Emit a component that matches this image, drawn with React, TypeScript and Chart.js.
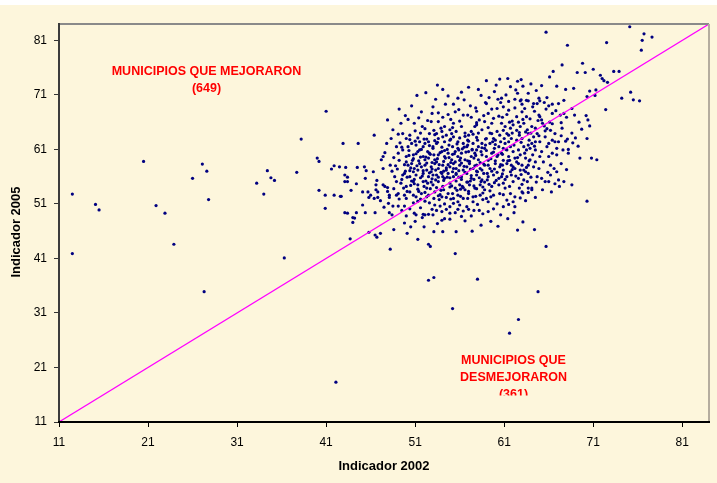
import React, { useEffect, useRef } from "react";
import { Chart, registerables } from "chart.js";

Chart.register(...registerables);

// Axis settings (both axes share the same range)
const axisMin = 11;
const axisMax = 84;
const tickValues = [11, 21, 31, 41, 51, 61, 71, 81];
const diagonalEnds = [11, 84];

const xTitle = "Indicador 2002";
const yTitle = "Indicador 2005";
const upperLabel = ["MUNICIPIOS QUE MEJORARON", "(649)"];
const lowerLabel = ["MUNICIPIOS QUE", "DESMEJORARON", "(361)"];

// [Indicador 2002, Indicador 2005]
const leftOutliers: [number, number][] = [
  [12.5, 52.8], [12.5, 41.9], [15.1, 50.9], [15.5, 49.9], [20.5, 58.8], [21.9, 50.7], [22.9, 49.3],
  [23.9, 43.6], [26.0, 55.7], [27.1, 58.3], [27.6, 57.0], [27.8, 51.8], [27.3, 34.9], [33.2, 54.8],
  [34.0, 52.8], [34.4, 57.1], [34.8, 55.8], [35.2, 55.3], [36.3, 41.1], [37.7, 56.8], [38.2, 62.9],
  [41.0, 68.0], [40.0, 59.4], [40.2, 58.8], [40.2, 53.5], [40.9, 52.6], [40.9, 50.2], [41.6, 57.4],
  [41.9, 58.0], [41.9, 52.6], [42.5, 57.8], [42.6, 52.4], [42.1, 18.3],
];

const southOutliers: [number, number][] = [
  [45.8, 45.8], [43.7, 44.6], [46.5, 45.3], [46.7, 44.9], [47.1, 45.6], [48.2, 42.7], [50.5, 46.8],
  [51.3, 44.5], [52.0, 46.8], [52.5, 43.6], [52.7, 43.2], [53.1, 45.9], [54.1, 45.9], [55.6, 45.9],
  [55.5, 41.9], [52.5, 37.0], [53.1, 37.5], [55.2, 31.8], [58.0, 37.2], [58.4, 47.1], [62.5, 46.2],
  [63.1, 47.7], [64.4, 46.3], [64.8, 34.9], [62.6, 29.8], [61.6, 27.3], [65.7, 43.2],
];

const northEast: [number, number][] = [
  [75.1, 83.5], [76.7, 82.2], [76.5, 81.0], [77.6, 81.6], [76.4, 79.2], [72.5, 80.6], [68.1, 80.1],
  [65.7, 82.5], [67.5, 76.5], [69.8, 76.8], [69.2, 75.1], [70.1, 75.1], [71.0, 75.7], [71.8, 74.6],
  [72.0, 74.0], [72.2, 73.6], [72.6, 73.3], [73.3, 75.3], [73.9, 75.3], [66.5, 75.3], [66.1, 74.3],
  [59.0, 73.6], [61.4, 74.0], [62.5, 73.5], [62.9, 73.8], [61.7, 72.5], [59.9, 71.6], [66.9, 72.6],
  [67.9, 72.0], [68.8, 72.2], [70.6, 71.7], [71.3, 71.9], [71.2, 70.9], [70.3, 70.7], [75.2, 71.5],
  [74.2, 70.4], [75.5, 70.1], [76.2, 69.9], [62.3, 71.9], [62.5, 71.3], [62.2, 70.2], [60.7, 70.4],
  [63.5, 70.0], [64.9, 70.4], [65.8, 70.5], [67.7, 70.0],
];

const upperCore: [number, number][] = [
  [53.5, 72.8], [54.1, 72.0], [54.7, 70.8], [55.3, 69.3], [58.4, 70.9], [50.6, 69.0], [60.3, 70.2],
  [60.6, 69.6], [59.0, 69.4], [62.9, 70.1], [63.7, 71.3], [64.3, 69.4], [55.9, 68.3], [57.2, 69.0],
  [57.9, 68.0], [59.6, 68.4], [56.5, 70.1],
];

const northExtra: [number, number][] = [
  [50.2, 66.5], [51.7, 67.9], [53.0, 68.8], [54.4, 69.3], [55.8, 70.4], [57.0, 72.4], [58.1, 72.0],
  [59.3, 70.5], [60.1, 72.8], [61.2, 71.0], [63.1, 72.6], [64.6, 71.8], [65.2, 72.7], [61.5, 69.8],
  [60.2, 68.5], [58.9, 69.6], [56.9, 67.3], [55.0, 66.5], [53.6, 66.1], [49.2, 68.4], [52.2, 71.4],
  [60.5, 73.9], [64.0, 73.0],
];

const westCloud: [number, number][] = [
  [47.9, 66.4], [46.4, 63.6], [47.8, 62.1], [42.9, 62.1], [44.6, 62.1], [44.5, 57.7], [43.2, 57.7],
  [44.4, 54.7], [43.1, 56.3], [43.4, 55.9], [45.3, 57.8], [45.5, 57.1], [46.3, 56.9], [45.4, 55.7],
  [46.7, 55.3], [47.4, 57.5], [47.6, 60.4], [48.2, 58.1], [47.2, 59.1], [47.4, 59.7], [45.7, 53.2],
  [46.0, 52.6], [46.6, 53.6], [47.6, 54.2], [47.9, 53.3], [46.4, 52.0], [46.8, 52.2], [48.1, 52.2],
  [45.8, 52.2], [43.1, 55.1], [43.4, 55.1], [42.7, 52.4], [43.1, 49.4], [43.4, 49.3], [44.4, 49.4],
  [44.0, 48.5], [44.2, 48.4], [44.0, 47.6], [45.1, 50.8], [45.4, 49.4], [46.5, 49.4], [46.8, 53.2],
  [47.1, 51.6], [47.4, 54.5], [48.1, 52.6], [48.1, 49.4], [47.9, 54.0], [46.6, 54.5], [45.1, 53.2],
  [43.8, 53.5],
];

const coreCloud: [number, number][] = [
  [49.9, 67.2], [53.6, 67.7], [54.1, 66.9], [56.4, 67.3], [59.2, 67.6], [59.8, 66.7], [60.4, 67.1],
  [50.9, 65.8], [51.8, 65.2], [52.4, 66.3], [52.8, 66.1], [54.3, 65.2], [55.3, 65.8], [57.3, 66.9],
  [57.9, 65.5], [58.2, 66.4], [58.8, 66.1], [59.6, 65.8], [48.5, 64.6], [49.1, 63.8], [49.6, 63.9],
  [50.0, 63.0], [50.4, 63.6], [53.4, 63.9], [54.0, 64.3], [54.9, 64.6], [55.6, 64.3], [56.2, 65.2],
  [57.0, 63.6], [57.3, 64.3], [57.7, 65.2], [58.5, 64.6], [59.0, 63.0], [59.6, 63.9], [60.2, 64.3],
  [60.5, 63.6], [50.6, 62.1], [51.1, 61.8], [51.5, 62.4], [52.1, 62.1], [52.5, 62.4], [53.0, 61.5],
  [53.4, 62.1], [53.6, 63.0], [54.3, 62.4], [54.9, 62.7], [55.3, 63.3], [55.8, 62.4], [56.4, 62.1],
  [56.8, 61.5], [57.5, 62.1], [57.9, 60.9], [58.5, 62.1], [58.8, 61.2], [59.4, 62.1], [60.0, 62.7],
  [60.4, 61.5], [49.1, 60.3], [49.6, 60.9], [50.0, 59.7], [50.8, 60.0], [51.3, 60.6], [51.9, 59.7],
  [52.1, 59.1], [52.5, 59.4], [52.6, 60.3], [53.2, 59.1], [53.6, 60.0], [54.0, 60.6], [54.3, 59.7],
  [54.7, 60.3], [55.1, 59.1], [55.5, 60.6], [55.8, 59.7], [56.2, 60.3], [56.6, 59.1], [57.0, 60.6],
  [57.3, 59.7], [57.7, 60.3], [58.1, 59.1], [58.5, 60.0], [59.0, 59.7], [59.6, 60.3], [60.2, 59.7],
  [50.2, 58.1], [50.6, 58.4], [50.9, 57.5], [51.5, 58.4], [51.7, 57.8], [52.1, 58.1], [52.3, 57.2],
  [52.8, 57.8], [53.2, 58.4], [53.6, 57.5], [54.1, 58.1], [54.5, 57.2], [54.9, 57.8], [55.3, 58.4],
  [55.6, 57.5], [56.0, 58.1], [56.4, 57.2], [56.8, 57.8], [57.1, 58.4], [57.5, 57.5], [57.9, 58.1],
  [58.5, 57.2], [58.8, 58.1], [59.4, 57.5], [60.0, 58.4], [60.5, 57.8], [49.8, 56.6], [50.4, 56.0],
  [50.8, 56.9], [51.1, 56.3], [51.9, 56.6], [52.5, 56.0], [52.8, 56.9], [53.4, 56.3], [54.0, 56.6],
  [54.3, 55.7], [54.7, 56.6], [55.3, 56.0], [55.6, 56.6], [56.2, 56.0], [56.8, 56.6], [57.3, 55.7],
  [57.9, 56.3], [58.5, 55.4], [59.2, 56.0], [59.8, 56.3], [60.4, 55.7], [48.9, 55.1], [49.4, 54.8],
  [50.0, 54.2], [50.8, 55.1], [51.3, 54.5], [51.9, 55.1], [52.3, 53.9], [53.0, 54.5], [53.6, 55.1],
  [54.1, 54.2], [54.9, 54.8], [55.5, 53.9], [56.0, 54.5], [56.6, 53.6], [57.1, 54.5], [57.7, 53.9],
  [58.3, 54.5], [58.8, 53.6], [59.6, 54.2], [60.4, 54.5], [49.1, 52.9], [49.8, 52.6], [50.4, 53.2],
  [51.1, 52.3], [51.7, 52.9], [52.5, 52.6], [53.2, 53.2], [54.0, 52.3], [54.7, 52.9], [55.3, 52.0],
  [55.8, 52.6], [56.4, 52.0], [57.0, 52.9], [57.5, 52.3], [58.3, 52.6], [59.0, 52.0], [59.8, 52.6],
];

const coreFill: [number, number][] = [
  [49.5, 61.4], [50.3, 60.8], [51.1, 60.2], [51.7, 61.0], [52.4, 60.6], [53.0, 61.2], [53.8, 60.4],
  [54.6, 61.0], [55.2, 60.1], [55.9, 60.9], [56.5, 61.4], [57.4, 60.9], [58.1, 61.5], [59.0, 60.8],
  [59.9, 61.2], [49.2, 59.0], [50.0, 58.7], [50.8, 59.3], [51.4, 58.9], [52.2, 59.6], [52.9, 58.6],
  [53.5, 59.3], [54.2, 58.8], [54.8, 59.5], [55.5, 58.7], [56.1, 59.4], [56.9, 58.9], [57.6, 59.4],
  [58.3, 58.6], [59.2, 59.0], [60.0, 58.9], [49.0, 57.4], [49.9, 57.0], [50.5, 57.6], [51.3, 57.2],
  [51.9, 57.1], [52.6, 56.7], [53.3, 57.2], [53.9, 56.8], [54.5, 57.6], [55.2, 56.9], [55.9, 57.1],
  [56.6, 56.8], [57.2, 57.4], [58.0, 56.9], [58.7, 56.6], [59.6, 57.0], [48.7, 56.0], [49.5, 55.5],
  [50.1, 55.9], [50.9, 55.5], [51.6, 55.8], [52.2, 55.2], [52.9, 55.6], [53.6, 55.9], [54.2, 55.3],
  [54.9, 55.8], [55.6, 55.2], [56.2, 55.5], [56.9, 55.0], [57.6, 55.5], [58.4, 55.1], [59.1, 55.4],
  [59.9, 54.9], [49.7, 53.9], [50.5, 54.4], [51.3, 53.7], [52.0, 54.2], [52.7, 53.8], [53.4, 54.0],
  [54.2, 53.6], [54.9, 54.1], [55.7, 53.5], [56.3, 54.2], [57.0, 53.3], [57.9, 53.8], [58.6, 54.1],
  [59.4, 53.4], [50.0, 52.0], [50.8, 52.6], [51.6, 51.9], [52.3, 52.3], [53.1, 52.0], [53.8, 52.7],
  [54.5, 52.2], [55.2, 52.9], [56.1, 52.4], [56.9, 52.0], [57.8, 52.4], [58.6, 51.8], [59.5, 52.3],
  [50.4, 62.8], [51.3, 63.1], [52.3, 62.9], [53.2, 62.6], [54.1, 63.3], [55.0, 62.9], [56.0, 63.1],
  [56.9, 62.7], [57.9, 63.2], [58.9, 62.9], [59.8, 63.0], [51.0, 64.4], [52.1, 64.8], [53.1, 64.5],
  [55.2, 65.0], [56.6, 64.0], [58.1, 64.0], [59.2, 65.0],
];

const coreExtra: [number, number][] = [
  [49.3, 62.2], [49.8, 58.2], [50.2, 61.5], [50.7, 59.0], [50.4, 57.1], [50.9, 54.7], [51.2, 58.0],
  [51.5, 60.9], [51.8, 56.1], [51.4, 53.3], [52.0, 62.9], [52.3, 58.5], [52.6, 61.7], [52.4, 54.8],
  [52.9, 57.4], [53.1, 60.0], [53.3, 55.4], [53.5, 62.3], [53.7, 58.2], [53.9, 53.5], [54.0, 61.4],
  [54.2, 57.0], [54.4, 59.4], [54.6, 55.9], [54.5, 63.6], [54.8, 61.8], [55.0, 58.6], [55.1, 54.3],
  [55.4, 60.2], [55.3, 57.5], [55.7, 62.0], [55.9, 55.9], [56.0, 59.0], [56.3, 61.1], [56.1, 53.7],
  [56.5, 57.9], [56.7, 60.5], [56.8, 55.0], [57.0, 62.5], [57.1, 58.8], [57.3, 56.2], [57.4, 61.0],
  [57.6, 54.3], [57.8, 59.9], [57.9, 57.0], [58.0, 62.7], [58.2, 55.8], [58.4, 60.6], [58.6, 53.0],
  [58.7, 58.3], [58.9, 61.8], [59.1, 56.6], [59.3, 54.6], [59.5, 59.3], [59.7, 62.4], [59.9, 57.4],
  [60.1, 55.3], [60.3, 60.0], [60.5, 52.9], [60.6, 58.2], [49.6, 56.3], [50.1, 53.3], [50.6, 55.2],
  [51.0, 62.5], [51.6, 59.6], [52.1, 53.1], [52.7, 60.1], [53.0, 56.3], [53.4, 58.7], [53.6, 52.5],
  [54.1, 56.0], [54.7, 58.2], [55.2, 61.5], [55.6, 56.4], [56.2, 58.5], [56.4, 54.0], [56.9, 61.8],
  [57.2, 55.2], [57.7, 58.0], [58.3, 57.5], [58.8, 55.0], [59.2, 58.1], [59.8, 60.5], [60.2, 56.8],
  [50.3, 59.9], [51.9, 61.5], [52.8, 55.0], [53.2, 63.7], [54.3, 60.8], [55.8, 61.2], [56.6, 63.4],
  [57.5, 63.8], [58.5, 61.3], [59.4, 64.0], [60.0, 61.9], [55.1, 63.9], [53.9, 64.9], [52.6, 63.9],
  [51.6, 64.0], [57.9, 65.9], [56.0, 66.2], [54.7, 67.4], [58.7, 67.2], [51.4, 66.8], [52.9, 67.6],
  [55.5, 67.9], [57.8, 68.6], [53.3, 70.2], [56.2, 71.5], [51.2, 70.9], [49.4, 65.8], [48.3, 63.0],
  [48.9, 61.5], [48.6, 59.5], [48.8, 58.0], [48.4, 57.0], [48.6, 53.8], [49.2, 51.9], [48.9, 52.6],
];

const eastCloud: [number, number][] = [
  [60.9, 68.8], [62.8, 69.9], [63.0, 69.3], [63.7, 69.9], [64.2, 68.8], [64.7, 69.4], [65.0, 69.9],
  [65.5, 69.6], [66.0, 69.0], [66.4, 69.3], [67.1, 69.4], [68.6, 68.5], [61.5, 68.2], [62.4, 67.0],
  [63.0, 67.9], [63.5, 67.0], [64.9, 67.3], [65.0, 67.0], [65.2, 66.4], [65.3, 65.8], [65.5, 65.3],
  [66.4, 67.6], [67.3, 67.3], [67.7, 67.6], [70.2, 67.2], [70.4, 66.4], [70.6, 65.3], [69.7, 64.7],
  [68.6, 64.0], [70.3, 63.0], [72.4, 68.3], [60.7, 65.8], [61.1, 65.2], [60.9, 64.5], [61.3, 63.9],
  [61.5, 63.6], [61.7, 64.9], [62.0, 65.5], [62.4, 64.5], [62.8, 65.2], [63.2, 65.8], [63.4, 64.2],
  [63.7, 63.9], [64.1, 65.2], [64.5, 64.9], [64.7, 63.9], [64.3, 63.3], [65.6, 64.4], [66.2, 64.5],
  [66.7, 63.9], [67.5, 64.9], [66.4, 62.7], [66.7, 62.4], [66.0, 62.1], [67.1, 62.4], [67.9, 62.5],
  [65.6, 63.3], [65.0, 62.4], [64.5, 62.4], [64.1, 62.1], [63.7, 61.8], [63.0, 63.0], [62.4, 62.7],
  [61.8, 63.0], [61.5, 62.4], [61.1, 62.1], [60.9, 61.2], [61.3, 60.9], [61.7, 61.5], [62.0, 60.6],
  [62.6, 60.9], [63.2, 61.5], [63.5, 60.9], [63.9, 61.2], [64.5, 60.9], [65.2, 60.6], [65.8, 61.5],
  [66.4, 60.3], [66.9, 60.0], [68.2, 61.0], [68.2, 60.3], [60.7, 60.3], [61.5, 59.7], [62.2, 59.4],
  [62.8, 60.0], [63.4, 59.4], [63.9, 59.1], [64.5, 58.7], [65.0, 59.7], [66.0, 59.7], [61.3, 58.4],
  [61.8, 58.1], [62.4, 58.7], [63.0, 58.1], [63.7, 58.1], [64.3, 57.8], [64.9, 57.5], [66.2, 58.1],
  [60.9, 57.2], [61.7, 56.9], [62.2, 57.5], [62.8, 57.2], [63.2, 57.2], [63.4, 56.9], [63.7, 56.6],
  [61.8, 56.3], [62.6, 55.7], [63.2, 55.4], [61.3, 56.0], [60.7, 56.0], [62.0, 55.1], [64.7, 56.0],
  [65.2, 55.7], [66.2, 56.3], [66.9, 56.9], [67.1, 55.4], [67.7, 55.1], [69.5, 59.4], [70.8, 59.4],
  [71.4, 59.1], [68.6, 54.5], [67.2, 54.2], [66.0, 55.1], [60.9, 54.8], [61.1, 53.9], [61.7, 52.9],
  [62.2, 52.3], [63.0, 53.2], [63.7, 53.9], [64.1, 53.6], [63.7, 53.1], [61.3, 51.7], [62.0, 51.4],
  [60.9, 50.5], [62.2, 50.5], [70.3, 51.5], [60.8, 58.1], [60.8, 56.5], [63.6, 55.1], [65.6, 55.1],
  [66.7, 54.7], [64.1, 53.9], [63.1, 53.0], [61.0, 63.0], [61.9, 64.0], [62.7, 63.6], [63.6, 64.6],
  [61.2, 61.0], [62.1, 61.8], [62.9, 62.3], [63.8, 62.7], [61.6, 59.0], [62.5, 59.5], [63.3, 60.3],
  [64.2, 60.0], [60.9, 59.0], [61.9, 57.3], [62.6, 58.4], [63.5, 57.7], [61.1, 55.5], [62.3, 56.1],
  [63.0, 54.6], [64.0, 55.9], [61.6, 54.2], [62.7, 53.9],
];

const eastExtra: [number, number][] = [
  [60.8, 66.9], [61.3, 67.4], [61.9, 66.2], [62.2, 68.6], [62.6, 66.0], [63.3, 68.5], [63.9, 66.6],
  [64.4, 68.0], [64.8, 66.3], [65.7, 68.4], [66.1, 66.0], [66.8, 68.1], [67.4, 65.9], [68.0, 66.9],
  [68.9, 67.3], [69.4, 66.0], [69.0, 63.1], [68.1, 62.9], [67.4, 63.5], [66.9, 61.2], [67.6, 60.9],
  [68.7, 62.2], [69.3, 61.6], [65.4, 58.7], [66.6, 57.5], [67.4, 58.4], [68.0, 57.3], [65.9, 56.8],
  [64.6, 55.0], [65.3, 53.6], [66.3, 53.2], [64.5, 52.2], [63.4, 51.6], [62.8, 52.1], [61.5, 50.9],
  [60.9, 52.7], [60.6, 62.4], [60.8, 60.1], [61.4, 58.9], [62.0, 57.8], [62.9, 56.4], [63.8, 58.9],
  [64.4, 61.6], [64.9, 63.5], [65.8, 64.8], [66.4, 65.7], [63.1, 66.5], [61.6, 66.0], [62.7, 64.1],
  [64.0, 64.0],
];

const southCloud: [number, number][] = [
  [48.5, 50.6], [49.1, 50.6], [49.8, 50.6], [50.8, 51.2], [51.3, 51.5], [52.1, 51.5], [52.6, 51.2],
  [53.2, 50.8], [53.8, 50.6], [54.3, 51.0], [54.9, 50.5], [55.3, 51.1], [55.8, 51.4], [56.0, 50.8],
  [56.8, 50.5], [57.5, 51.4], [59.2, 51.4], [60.2, 51.0], [62.1, 49.4], [48.4, 49.0], [50.0, 48.8],
  [50.9, 49.3], [51.1, 49.0], [51.9, 49.1], [52.1, 49.0], [52.5, 49.1], [53.0, 49.0], [53.4, 49.8],
  [54.0, 49.6], [54.5, 50.0], [54.9, 49.3], [55.5, 49.4], [55.8, 50.0], [56.2, 48.7], [57.3, 48.8],
  [57.6, 49.8], [58.2, 49.8], [59.2, 49.6], [54.0, 48.0], [54.3, 48.3], [54.9, 48.2], [51.8, 48.5],
];

const southExtra: [number, number][] = [
  [47.5, 50.4], [48.0, 51.1], [49.5, 49.8], [50.4, 50.1], [51.6, 50.3], [52.9, 50.0], [53.7, 51.8],
  [55.0, 51.9], [56.4, 49.7], [57.0, 50.0], [58.0, 50.9], [58.6, 49.2], [59.8, 50.1], [60.6, 49.0],
  [61.4, 48.3], [49.8, 47.5], [51.0, 47.8], [53.5, 47.4], [56.6, 47.9], [59.5, 47.8], [48.6, 46.3],
  [50.1, 45.6], [57.4, 46.0], [60.3, 46.9],
];

const pointGroups = [
  leftOutliers, southOutliers, northEast, upperCore, northExtra, westCloud, coreCloud, coreFill,
  coreExtra, eastCloud, eastExtra, southCloud, southExtra,
];

const FONT = '"Liberation Sans", Arial, Helvetica, sans-serif';

const framePlugin = {
  id: "frame",
  beforeDraw(chart: any) {
    const { ctx, width, height } = chart;
    ctx.save();
    ctx.fillStyle = "#ffffff";
    ctx.fillRect(0, 0, width, height);
    ctx.fillStyle = "#fdf6dc";
    ctx.fillRect(0, 5, width, height - 5);
    ctx.restore();
  },
  afterDraw(chart: any) {
    const { ctx, chartArea } = chart;
    const { left, right, top, bottom } = chartArea;
    ctx.save();
    ctx.strokeStyle = "#8a8a8a";
    ctx.lineWidth = 2;
    ctx.beginPath();
    ctx.moveTo(left, top);
    ctx.lineTo(right, top);
    ctx.stroke();
    ctx.strokeStyle = "#b5ad9f";
    ctx.beginPath();
    ctx.moveTo(right, top);
    ctx.lineTo(right, bottom);
    ctx.stroke();
    ctx.strokeStyle = "#3c3c3c";
    ctx.beginPath();
    ctx.moveTo(left, top - 1);
    ctx.lineTo(left, bottom + 1);
    ctx.stroke();
    ctx.strokeStyle = "#000000";
    ctx.beginPath();
    ctx.moveTo(left - 1, bottom);
    ctx.lineTo(right + 1, bottom);
    ctx.stroke();

    ctx.fillStyle = "#000000";
    ctx.font = `bold 13px ${FONT}`;
    ctx.textAlign = "center";
    ctx.textBaseline = "middle";
    ctx.fillText(xTitle, (left + right) / 2, 466);
    ctx.save();
    ctx.translate(16, 232);
    ctx.rotate(-Math.PI / 2);
    ctx.fillText(yTitle, 0, 0);
    ctx.restore();

    ctx.fillStyle = "#ff0000";
    ctx.font = `bold 12.5px ${FONT}`;
    ctx.fillText(upperLabel[0], 206.5, 72);
    ctx.fillText(upperLabel[1], 206.5, 89);
    ctx.fillText(lowerLabel[0], 513.5, 361);
    ctx.fillText(lowerLabel[1], 513.5, 378);
    ctx.beginPath();
    ctx.rect(0, 0, chart.width, 395.5);
    ctx.clip();
    ctx.fillText(lowerLabel[2], 513.5, 394.5);
    ctx.restore();
  },
};

export default function App() {
  const canvasRef = useRef<HTMLCanvasElement | null>(null);

  useEffect(() => {
    const canvas = canvasRef.current;
    if (!canvas) return;
    const points = pointGroups.flat().map(([x, y]) => ({ x, y }));
    const chart = new Chart(canvas, {
      type: "scatter",
      data: {
        datasets: [
          {
            type: "line",
            data: diagonalEnds.map((v) => ({ x: v, y: v })),
            borderColor: "#ff00ff",
            borderWidth: 1.2,
            pointRadius: 0,
            fill: false,
          } as any,
          {
            data: points,
            backgroundColor: "#000080",
            borderWidth: 0,
            pointRadius: 1.6,
            pointStyle: "circle",
          },
        ],
      },
      options: {
        animation: false,
        responsive: false,
        devicePixelRatio: 1,
        layout: { padding: { top: 24, right: 8, left: 0, bottom: 0 } },
        plugins: { legend: { display: false }, tooltip: { enabled: false } },
        scales: {
          x: {
            type: "linear",
            min: axisMin,
            max: axisMax,
            afterBuildTicks: (s: any) => {
              s.ticks = tickValues.map((v) => ({ value: v }));
            },
            afterFit: (s: any) => {
              s.height = 61;
            },
            border: { display: false },
            grid: { drawOnChartArea: false, drawTicks: true, tickLength: 5, color: "#000000" },
            ticks: { font: { family: FONT, size: 12 }, color: "#000000", padding: 8, maxRotation: 0 },
          },
          y: {
            type: "linear",
            min: axisMin,
            max: axisMax,
            afterBuildTicks: (s: any) => {
              s.ticks = tickValues.map((v) => ({ value: v }));
            },
            afterFit: (s: any) => {
              s.width = 59;
            },
            border: { display: false },
            grid: { drawOnChartArea: false, drawTicks: true, tickLength: 5, color: "#333333" },
            ticks: { font: { family: FONT, size: 12 }, color: "#000000", padding: 7 },
          },
        },
      },
      plugins: [framePlugin],
    });
    return () => chart.destroy();
  }, []);

  return (
    <div style={{ position: "fixed", left: 0, top: 0, width: 717, height: 483 }}>
      <canvas ref={canvasRef} width={717} height={483} />
    </div>
  );
}
